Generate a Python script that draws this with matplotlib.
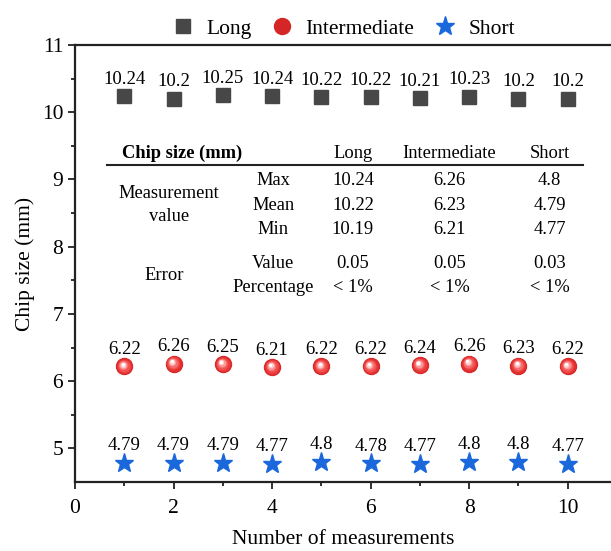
import numpy as np
import matplotlib.pyplot as plt
import matplotlib.transforms as mtransforms

plt.rcParams['font.family'] = ['Liberation Serif', 'DejaVu Serif']
plt.rcParams['mathtext.fontset'] = 'stix'

# data
runs = [1, 2, 3, 4, 5, 6, 7, 8, 9, 10]
long_vals = [10.24, 10.2, 10.25, 10.24, 10.22, 10.22, 10.21, 10.23, 10.2, 10.2]
inter_vals = [6.22, 6.26, 6.25, 6.21, 6.22, 6.22, 6.24, 6.26, 6.23, 6.22]
short_vals = [4.79, 4.79, 4.79, 4.77, 4.8, 4.78, 4.77, 4.8, 4.8, 4.77]

table_cols = ['Long', 'Intermediate', 'Short']
table_rows = ['Max', 'Mean', 'Min', 'Value', 'Percentage']
table_cells = [
    ['10.24', '6.26', '4.8'],
    ['10.22', '6.23', '4.79'],
    ['10.19', '6.21', '4.77'],
    ['0.05', '0.05', '0.03'],
    ['< 1%', '< 1%', '< 1%'],
]

fig = plt.figure(figsize=(6.11, 5.51), dpi=100)
ax = fig.add_axes([75 / 611, 69 / 551, 537 / 611, 437 / 551])

sq_color = '#474747'
blue = '#1b68dc'

ax.plot(runs, long_vals, 's', color=sq_color, ms=9.5, mec=sq_color, label='Long', zorder=3)

# shaded sphere: stack of shrinking, lighter circles shifted up-left
ax.plot(runs, inter_vals, 'o', color='#d42626', ms=11.5, mec='#d42626', label='Intermediate', zorder=3)
shades = ['#e02e2e', '#ea3c3c', '#f25050', '#f76c6c', '#fb9a9a', '#ffd0d0', '#ffffff']
for i, c in enumerate(shades):
    k = i / (len(shades) - 1)
    off = mtransforms.ScaledTranslation(-1.2 * k / 72, 1.6 * k / 72, fig.dpi_scale_trans)
    ax.plot(runs, inter_vals, 'o', color=c, mec='none', ms=11.5 * (1 - 0.8 * k),
            transform=ax.transData + off, zorder=3 + 0.01 * i)

ax.plot(runs, short_vals, '*', color=blue, ms=14, mec=blue, label='Short', zorder=3)

for vals in (long_vals, inter_vals, short_vals):
    for x, v in zip(runs, vals):
        ax.annotate(f'{v:g}', (x, v), xytext=(0, 9), textcoords='offset points',
                    ha='center', va='baseline', fontsize=13.5)

# summary table drawn as text in data coords
fs = 13.3
ax.text(0.95, 9.39, 'Chip size (mm)', fontsize=fs, fontweight='bold', ha='left', va='center')
col_x = [5.64, 7.6, 9.63]
for cx, name in zip(col_x, table_cols):
    ax.text(cx, 9.39, name, fontsize=fs, ha='center', va='center')
ax.plot([0.65, 10.32], [9.22, 9.22], color='#222222', lw=1.5, zorder=2)
row_y = [8.98, 8.61, 8.25, 7.75, 7.40]
for ry, rname, cells in zip(row_y, table_rows, table_cells):
    ax.text(4.02, ry, rname, fontsize=fs, ha='center', va='center')
    for cx, cell in zip(col_x, cells):
        ax.text(cx, ry, cell, fontsize=fs, ha='center', va='center')
ax.text(1.91, 8.62, 'Measurement\nvalue', fontsize=fs, ha='center', va='center', linespacing=1.4)
ax.text(1.8, 7.57, 'Error', fontsize=fs, ha='center', va='center')

ax.set_xlim(0, 10.9)
ax.set_ylim(4.5, 11)
ax.set_xticks([0, 2, 4, 6, 8, 10])
ax.set_xticks([1, 3, 5, 7, 9], minor=True)
ax.set_yticks([5, 6, 7, 8, 9, 10, 11])
ax.set_yticks([5.5, 6.5, 7.5, 8.5, 9.5, 10.5], minor=True)
ax.tick_params(which='major', direction='out', length=5, width=1.3, labelsize=15.5, color='#222222')
ax.tick_params(axis='x', which='major', pad=7)
ax.tick_params(which='minor', direction='out', length=3, width=1.3, color='#222222')
ax.tick_params(top=False, right=False)

for side in ('left', 'bottom', 'top'):
    ax.spines[side].set_linewidth(1.6)
    ax.spines[side].set_color('#222222')
ax.spines['right'].set_visible(False)

ax.set_xlabel('Number of measurements', fontsize=15.5, labelpad=9)
ax.set_ylabel('Chip size (mm)', fontsize=15.5, labelpad=5)

ax.legend(loc='lower center', bbox_to_anchor=(0.5, 0.995), ncol=3, frameon=False,
          fontsize=15.5, handlelength=1.0, handletextpad=0.6, columnspacing=0.9,
          borderaxespad=0.0)

fig.savefig('out.png', dpi=100)
